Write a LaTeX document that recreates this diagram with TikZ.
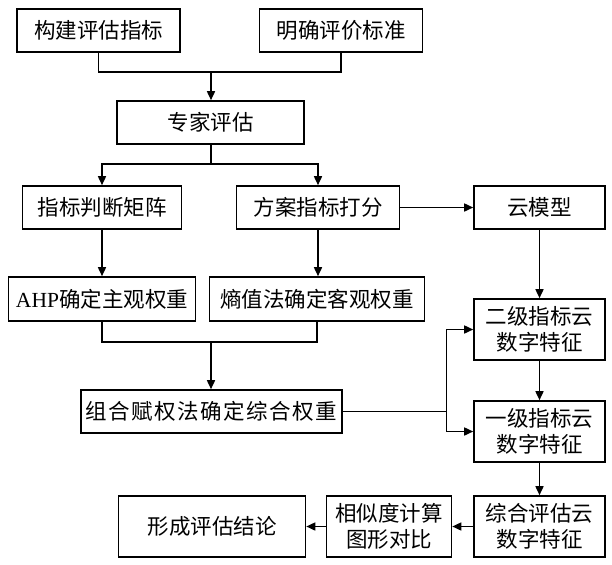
\documentclass[tikz,border=0pt]{standalone}
\usepackage{fontspec}
\setmainfont{Liberation Serif}
\newfontfamily\cjk{Noto Sans CJK SC}
\newfontfamily\cjkwide[LetterSpace=7]{Noto Sans CJK SC}
\usepackage{tikz}
\usetikzlibrary{arrows.meta}
\usetikzlibrary{positioning}

\begin{document}
\begin{tikzpicture}[x=1pt,y=-1pt,
	box/.style={draw,line width=1.6pt,align=center,inner sep=0pt,font=\cjk\fontsize{21.5}{26}\selectfont},
	line/.style={line width=1.6pt},
	arr/.style={line width=1.6pt,-{Triangle[length=9pt,width=8pt]}}]
			\useasboundingbox (0,0) rectangle (612,564);
			\node[box,minimum width=163pt,minimum height=43pt] (build) at (98.5,30.5) {构建评估指标};
			\node[box,minimum width=163pt,minimum height=43pt] (criteria) at (341,30.5) {明确评价标准};
			\node[box,minimum width=187pt,minimum height=43pt] (expert) at (210.5,122.5) {专家评估};
			\node[box,minimum width=159pt,minimum height=43pt] (matrix) at (102,207.5) {指标判断矩阵};
			\node[box,minimum width=163pt,minimum height=43pt] (score) at (318,207.5) {方案指标打分};
			\node[box,minimum width=131pt,minimum height=43pt] (cloud) at (539.5,207.5) {云模型};
			\node[box,minimum width=187pt,minimum height=44pt] (ahp) at (102,299) {{\rmfamily AHP}确定主观权重};
			\node[box,minimum width=215pt,minimum height=44pt] (entropy) at (317,299) {熵值法确定客观权重};
			\node[box,minimum width=261pt,minimum height=43pt,font=\cjkwide\fontsize{21.5}{26}\selectfont] (combine) at (211.5,411.5) {组合赋权法确定综合权重};
			\node[box,minimum width=131pt,minimum height=61pt] (second) at (539.5,329.5) {二级指标云\\数字特征};
			\node[box,minimum width=131pt,minimum height=61pt] (first) at (539.5,431.5) {一级指标云\\数字特征};
			\node[box,minimum width=131pt,minimum height=61pt] (overall) at (539.5,526.5) {综合评估云\\数字特征};
			\node[box,minimum width=125pt,minimum height=61pt] (simil) at (389,526.5) {相似度计算\\图形对比};
			\node[box,minimum width=187pt,minimum height=61pt] (conclude) at (212,526.5) {形成评估结论};
			\coordinate (m1) at (211,72);
			\coordinate (s1) at (211,164);
			\coordinate (m2) at (211,342);
			\coordinate (jn) at (446.5,411.5);
			\draw[line] (build.south) |- (m1) -| (criteria.south);
			\draw[arr] (m1) -- (m1 |- expert.north);
			\draw[line] (s1 |- expert.south) -- (s1);
			\draw[arr] (s1) -| (matrix.north);
			\draw[arr] (s1) -| (score.north);
			\draw[arr] (score.east) -- (cloud.west);
			\draw[arr] (matrix.south) -- (ahp.north);
			\draw[arr] (score.south) -- (score.south |- entropy.north);
			\draw[line] (ahp.south) |- (m2) -| (entropy.south);
			\draw[arr] (m2) -- (m2 |- combine.north);
			\draw[line] (combine.east) -- (jn);
			\draw[arr] (jn) |- (second.west);
			\draw[arr] (jn) |- (first.west);
			\draw[arr] (cloud.south) -- (second.north);
			\draw[arr] (second.south) -- (first.north);
			\draw[arr] (first.south) -- (overall.north);
			\draw[arr] (overall.west) -- (simil.east);
			\draw[arr] (simil.west) -- (conclude.east);
		\end{tikzpicture}
\end{document}
